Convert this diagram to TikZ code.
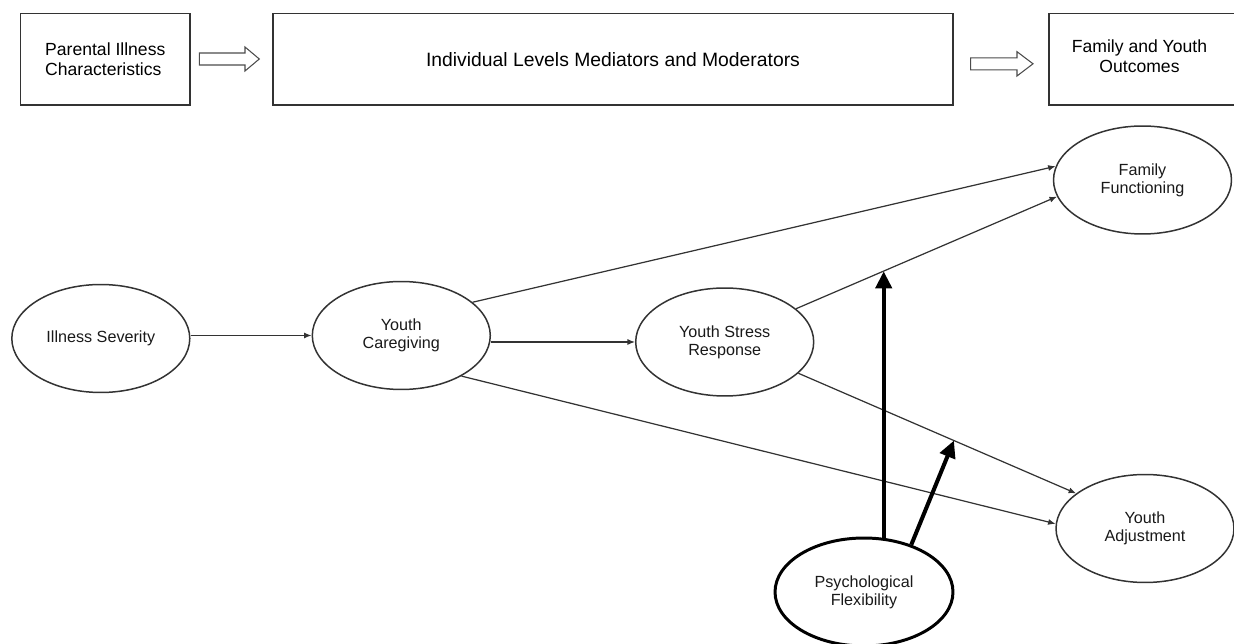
\documentclass[tikz,border=0pt]{standalone}
\usepackage{fontspec}
\setmainfont{Liberation Sans}
\usetikzlibrary{shapes.geometric,arrows.meta}

\tikzset{
  box/.style={draw=black!80, line width=0.85pt, rectangle, inner sep=0pt, minimum height=1.834cm},
  boxfont/.style={font=\fontsize{10}{11.4}\selectfont},
  var/.style={draw=black!80, line width=0.85pt, ellipse, inner sep=0pt, minimum width=3.56cm, minimum height=2.16cm, align=center, font=\fontsize{9.2}{10.2}\selectfont, text=black!90},
  conn/.style={draw=black!80, line width=0.7pt, -{Latex[length=0.15cm,width=0.12cm]}},
  modarrow/.style={draw=black, line width=2.3pt, -{Triangle[length=0.34cm,width=0.32cm]}},
  hollow/.style={draw=black!70, line width=0.6pt, fill=white}
}

\begin{document}
\begin{tikzpicture}[x=0.02cm,y=-0.02cm]
\useasboundingbox (0,0) rectangle (1234,644);
\clip (0,0) rectangle (1234,644);

% top row: the three levels
\node[box, boxfont, minimum width=3.386cm, align=left] (pic) at (105.3,59.2) {Parental Illness\\Characteristics};
\node[box, minimum width=13.61cm, font=\fontsize{11}{13}\selectfont] (ilm) at (613,59.2) {Individual Levels Mediators and Moderators};
\node[box, minimum width=4.3cm, anchor=west] (fyo) at (1048.3,59.2) {};
\node[boxfont, align=center, inner sep=0pt] (fyotext) at (1139.5,56) {Family and Youth\\Outcomes};
\draw[hollow] (199.3,53) -- (245,53) -- (245,47) -- (259.3,59) -- (245,71) -- (245,65) -- (199.3,65) -- cycle;
\draw[hollow] (970.7,57.8) -- (1017,57.8) -- (1017,51.7) -- (1033,63.8) -- (1017,76) -- (1017,69.8) -- (970.7,69.8) -- cycle;

% variables
\node[var] (is) at (100.8,338.5) {Illness Severity};
\node[var] (cg) at (401.3,335.5) {Youth\\Caregiving};
\node[var] (st) at (724.7,342) {Youth Stress\\Response};
\node[var] (ff) at (1142.5,180) {Family\\Functioning};
\node[var] (ya) at (1145,528.5) {Youth\\Adjustment};
\node[var, draw=black, line width=1.7pt] (pf) at (864,592) {Psychological\\Flexibility};

% paths
\draw[conn] (is.east |- cg.west) -- (cg.west);
\draw[conn] (cg.east |- st.west) -- (st.west);
\draw[conn] (cg.25) -- (ff.171);
\draw[conn] (st.25) -- (ff.191) coordinate[pos=0.334] (modA);
\draw[conn] (st.-23) -- (ya.153.6) coordinate[pos=0.56] (modB);
\draw[conn] (cg.-34) -- (ya.177.4);

% moderation
\draw[modarrow] (pf.70) -- (pf.70 |- modA);
\draw[modarrow] (pf.45) -- (modB);
\end{tikzpicture}
\end{document}
